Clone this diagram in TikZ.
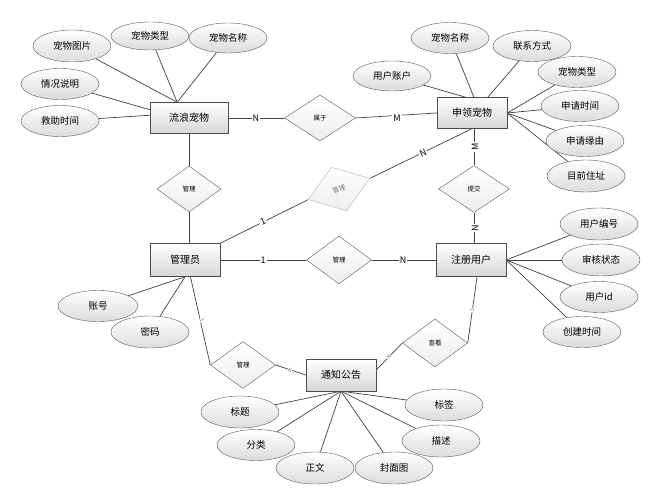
\documentclass[tikz,border=0pt]{standalone}
\usepackage{fontspec}
\setmainfont{Noto Sans CJK SC}
\usepackage{tikz}
\usetikzlibrary{backgrounds,shapes}
\pgfdeclarelayer{edgelayer}
\pgfdeclarelayer{nodelayer}
\pgfsetlayers{edgelayer,nodelayer,main}
\tikzstyle{entity}=[rectangle,draw=black!70,top color=white,bottom color=black!16,minimum width=70pt,minimum height=32pt,inner sep=0pt,font=\fontsize{10}{12}\selectfont]
\tikzstyle{attr}=[ellipse,draw=black!65,top color=white,bottom color=black!14,minimum width=78pt,minimum height=31pt,inner sep=0pt,font=\fontsize{9.5}{11}\selectfont]
\tikzstyle{relation}=[diamond,draw=black!65,top color=white,bottom color=black!7,minimum width=65pt,minimum height=47pt,inner sep=0pt,font=\fontsize{6.5}{8}\selectfont]
\tikzstyle{ghost}=[relation,draw=black!30,text=black!55,rotate=19]
\tikzstyle{card}=[fill=white,inner sep=1pt,font=\fontsize{9}{10}\selectfont]
\tikzstyle{tinycard}=[fill=white,inner sep=0.5pt,text=black!60,font=\fontsize{5}{6}\selectfont]
\tikzstyle{link}=[-,draw=black!75,line width=0.7]

\begin{document}
\begin{tikzpicture}[x=1pt,y=-1pt]
	\useasboundingbox (0,0) rectangle (656,500);
	\begin{pgfonlayer}{nodelayer}
		\node [style=entity,minimum width=78pt,minimum height=31pt] (stray) at (189,118) {流浪宠物};
		\node [style=entity,minimum height=31pt] (claim) at (472,113) {申领宠物};
		\node [style=entity,minimum height=33pt] (admin) at (185,260) {管理员};
		\node [style=entity,minimum height=33pt] (user) at (471,260) {注册用户};
		\node [style=entity] (notice) at (341,375) {通知公告};

		\node [style=relation,minimum width=71pt,minimum height=46pt] (belong) at (320,118) {属于};
		\node [style=relation,minimum width=64pt,minimum height=46pt] (mgA) at (189,189) {管理};
		\node [style=ghost,minimum height=46pt] (mgB) at (339,189) {管理};
		\node [style=relation,minimum width=71pt] (submit) at (474,189) {提交};
		\node [style=relation,minimum height=48pt] (mgC) at (339,260) {管理};
		\node [style=relation] (mgD) at (243,365) {管理};
		\node [style=relation,minimum height=48pt] (view) at (435,343) {查看};

		\node [style=attr,minimum height=32pt] (sPic) at (72,46) {宠物图片};
		\node [style=attr,minimum height=28pt] (sType) at (150,36) {宠物类型};
		\node [style=attr,minimum height=30pt] (sName) at (228,38) {宠物名称};
		\node [style=attr] (sNote) at (60,84) {情况说明};
		\node [style=attr] (sTime) at (60,121) {救助时间};

		\node [style=attr,minimum height=30pt] (cAcct) at (392,76) {用户账户};
		\node [style=attr] (cName) at (450,38) {宠物名称};
		\node [style=attr] (cTel) at (532,46) {联系方式};
		\node [style=attr] (cType) at (577,72) {宠物类型};
		\node [style=attr] (cTime) at (580,106) {申请时间};
		\node [style=attr] (cWhy) at (585,141) {申请缘由};
		\node [style=attr,minimum height=32pt] (cAddr) at (586,176) {目前住址};

		\node [style=attr,minimum height=32pt] (uNo) at (599,224) {用户编号};
		\node [style=attr,minimum height=32pt] (uState) at (601,260) {审核状态};
		\node [style=attr] (uId) at (599,297) {用户id};
		\node [style=attr] (uTime) at (582,332) {创建时间};

		\node [style=attr,minimum width=80pt] (aNo) at (98,306) {账号};
		\node [style=attr,minimum height=32pt] (aPwd) at (150,332) {密码};

		\node [style=attr,minimum height=32pt] (nTitle) at (240,412) {标题};
		\node [style=attr] (nSort) at (256,445) {分类};
		\node [style=attr,minimum height=32pt] (nText) at (315,468) {正文};
		\node [style=attr,minimum height=32pt] (nCover) at (394,468) {封面图};
		\node [style=attr,minimum height=32pt] (nTag) at (444,405) {标签};
		\node [style=attr,minimum height=32pt] (nDesc) at (441,441) {描述};

		\node [style=card] (c1) at (256,118) {N};
		\node [style=card] (c2) at (397,118) {M};
		\node [style=card,rotate=90] (c3) at (475,147) {M};
		\node [style=card,rotate=90] (c4) at (475,228) {N};
		\node [style=card] (c5) at (263,260) {1};
		\node [style=card] (c6) at (403,260) {N};
		\node [style=card,rotate=26] (c7) at (263,222) {1};
		\node [style=card,rotate=26] (c8) at (423,153) {N};
		\node [style=tinycard,rotate=-76] (c9) at (202,320) {1};
		\node [style=tinycard,rotate=-21] (c10) at (290,370) {N};
		\node [style=tinycard,rotate=82] (c11) at (472,310) {1};
		\node [style=tinycard,rotate=45] (c12) at (389,357) {N};
	\end{pgfonlayer}
	\begin{pgfonlayer}{edgelayer}
		\draw [style=link] (stray.east) to (belong.west);
		\draw [style=link] (belong.east) to (claim.west);
		\draw [style=link] (stray.south) to (mgA.north);
		\draw [style=link] (mgA.south) to (admin.north -| mgA.south);
		\draw [style=link] (admin.north east) to (mgB.west);
		\draw [style=link] (mgB.east) to (claim.south);
		\draw [style=link] (claim.south -| submit.north) to (submit.north);
		\draw [style=link] (submit.south) to (user.north -| submit.south);
		\draw [style=link] (admin.east) to (mgC.west);
		\draw [style=link] (mgC.east) to (user.west);
		\draw [style=link] (admin.-72) to (mgD.west);
		\draw [style=link] (mgD.east) to (notice.west);
		\draw [style=link] (user.-70) to (view.east);
		\draw [style=link] (view.west) to (notice.8);

		\draw [style=link] (sPic) to (stray.127);
		\draw [style=link] (sType) to (stray.127);
		\draw [style=link] (sName) to (stray.127);
		\draw [style=link] (sNote) to (stray.168);
		\draw [style=link] (sTime) to (stray.176);

		\draw [style=link] (cAcct) to (claim.111);
		\draw [style=link] (cName) to (claim.83);
		\draw [style=link] (cTel) to (claim.45);
		\draw [style=link] (cType) to (claim.east);
		\draw [style=link] (cTime) to (claim.east);
		\draw [style=link] (cWhy) to (claim.east);
		\draw [style=link] (cAddr) to (claim.east);

		\draw [style=link] (uNo) to (user.east);
		\draw [style=link] (uState) to (user.east);
		\draw [style=link] (uId) to (user.east);
		\draw [style=link] (uTime) to (user.east);

		\draw [style=link] (aNo) to (admin.south);
		\draw [style=link] (aPwd) to (admin.south);

		\draw [style=link] (nTitle) to (notice.south);
		\draw [style=link] (nSort) to (notice.south);
		\draw [style=link] (nText) to (notice.south);
		\draw [style=link] (nCover) to (notice.south);
		\draw [style=link] (nTag) to (notice.south);
		\draw [style=link] (nDesc) to (notice.south);
	\end{pgfonlayer}
\end{tikzpicture}
\end{document}
